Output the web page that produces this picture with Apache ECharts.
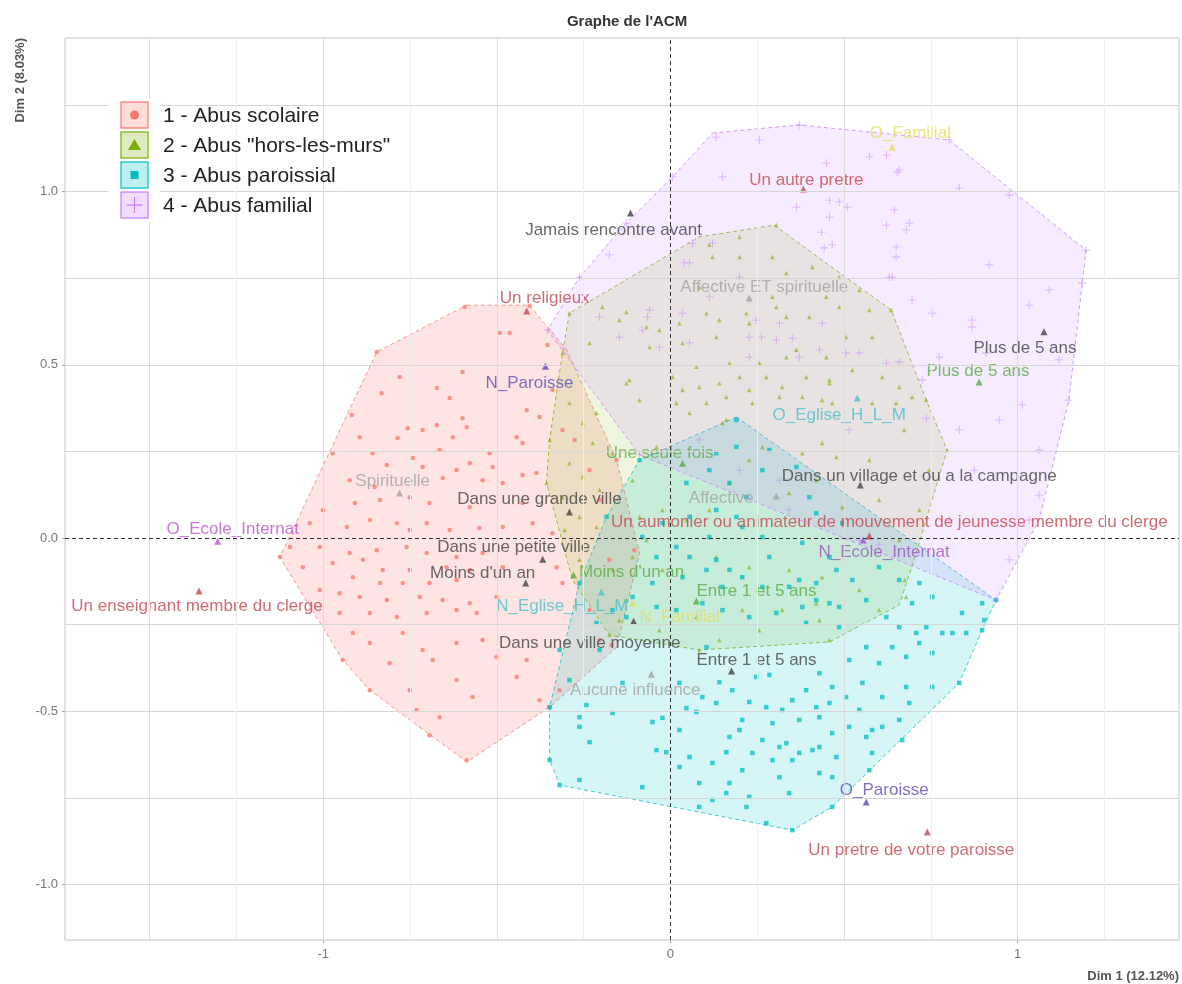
<!DOCTYPE html>
<html><head><meta charset="utf-8">
<script src="https://cdn.jsdelivr.net/npm/echarts@6/dist/echarts.min.js"></script>
<style>html,body{margin:0;padding:0;background:#fff}#c{width:1182px;height:984px}</style>
</head><body><div id="c"></div>
<script>
// ---------------- DATA ----------------
const groupNames = ['1 - Abus scolaire', '2 - Abus "hors-les-murs"', '3 - Abus paroissial', '4 - Abus familial'];
const xTickValues = [-1, 0, 1];
const yTickValues = [-1, -0.5, 0, 0.5, 1];
const gridXValues = [-1.5, -1.25, -1, -0.75, -0.5, -0.25, 0.25, 0.5, 0.75, 1, 1.25];
const gridYValues = [-1, -0.75, -0.5, -0.25, 0.25, 0.5, 0.75, 1, 1.25];

const pts1 = [[-0.463,0.592],[-0.492,0.592],[-0.354,0.557],[-0.599,0.479],[-0.780,0.465],[-0.673,0.433],[-0.832,0.418],[-0.636,0.404],[-0.414,0.369],[-0.377,0.349],[-0.918,0.355],[-0.599,0.346],[-0.757,0.317],[-0.714,0.312],[-0.673,0.326],[-0.587,0.320],[-0.627,0.291],[-0.443,0.291],[-0.426,0.274],[-0.895,0.291],[-0.786,0.289],[-0.858,0.245],[-0.973,0.245],[-0.665,0.254],[-0.521,0.245],[-0.578,0.216],[-0.742,0.231],[-0.817,0.211],[-0.714,0.205],[-0.616,0.196],[-0.512,0.205],[-0.426,0.182],[-0.386,0.188],[-0.656,0.173],[-0.541,0.167],[-0.483,0.159],[-0.924,0.167],[-0.852,0.147],[-0.909,0.101],[-0.837,0.110],[-0.751,0.118],[-0.694,0.101],[-0.578,0.089],[-0.426,0.101],[-1.001,0.081],[-1.039,0.043],[-0.932,0.032],[-0.866,0.052],[-0.788,0.043],[-0.751,0.023],[-0.702,0.043],[-0.636,0.023],[-0.550,0.029],[-0.483,0.032],[-0.397,0.043],[-0.340,0.014],[-1.096,-0.026],[-1.010,-0.026],[-0.924,-0.043],[-0.846,-0.035],[-0.760,-0.026],[-0.702,-0.043],[-0.616,-0.055],[-0.541,-0.043],[-1.059,-0.084],[-0.973,-0.072],[-0.886,-0.063],[-0.829,-0.092],[-0.751,-0.092],[-0.645,-0.084],[-0.578,-0.092],[-0.483,-0.084],[-0.328,-0.084],[-0.915,-0.113],[-0.837,-0.130],[-0.771,-0.130],[-0.694,-0.130],[-0.616,-0.121],[-1.010,-0.150],[-0.953,-0.159],[-0.895,-0.170],[-0.817,-0.179],[-0.722,-0.170],[-0.656,-0.179],[-0.578,-0.188],[-0.501,-0.170],[-0.311,-0.130],[-0.866,-0.216],[-0.788,-0.228],[-0.702,-0.216],[-0.616,-0.208],[-0.558,-0.216],[-0.953,-0.216],[-0.915,-0.274],[-0.771,-0.274],[-0.866,-0.303],[-0.714,-0.323],[-0.616,-0.303],[-0.541,-0.294],[-0.685,-0.352],[-0.414,-0.352],[-0.501,-0.343],[-0.809,-0.361],[-0.616,-0.410],[-0.443,-0.401],[-0.751,-0.439],[-0.570,-0.459],[-0.866,-0.439],[-0.731,-0.496],[-0.665,-0.517],[-0.694,-0.569],[-0.587,-0.641],[-0.593,0.667],[-0.406,0.670],[-0.846,0.537],[-0.340,0.427],[-0.311,0.312],[-0.276,0.283],[-0.233,0.196],[-0.204,0.110],[-0.176,-0.063],[-0.233,-0.208],[-0.204,-0.294],[-0.319,-0.439],[-0.377,-0.468],[-1.125,-0.055],[-0.944,-0.352],[-0.155,0.225],[-0.104,-0.035],[-0.170,-0.309],[-0.348,-0.488]];

const pts2 = [[0.305,0.903],[0.199,0.869],[0.112,0.846],[0.121,0.811],[0.199,0.811],[0.294,0.811],[0.334,0.765],[0.409,0.782],[0.486,0.753],[0.544,0.716],[0.449,0.696],[0.294,0.696],[0.305,0.667],[0.219,0.649],[0.141,0.629],[0.104,0.649],[0.026,0.620],[-0.032,0.600],[-0.060,0.551],[0.035,0.563],[0.132,0.580],[0.227,0.620],[0.334,0.638],[0.400,0.638],[0.486,0.667],[0.573,0.658],[0.581,0.580],[0.506,0.580],[0.449,0.522],[0.363,0.543],[0.334,0.522],[0.256,0.505],[0.170,0.505],[0.075,0.494],[0.006,0.465],[0.083,0.436],[0.141,0.447],[0.199,0.465],[0.276,0.465],[0.322,0.436],[0.391,0.465],[0.458,0.447],[0.524,0.485],[0.610,0.465],[0.659,0.436],[0.696,0.407],[0.017,0.390],[0.104,0.390],[0.161,0.407],[0.236,0.390],[0.314,0.407],[0.380,0.407],[0.466,0.390],[0.581,0.390],[0.650,0.390],[0.083,0.724],[-0.196,0.667],[-0.127,0.652],[-0.147,0.629],[-0.069,0.609],[-0.233,0.563],[-0.127,0.447],[-0.089,0.398],[0.035,0.427],[0.227,0.427],[0.437,0.398],[0.458,0.456],[0.055,0.361],[0.161,0.341],[-0.291,0.390],[-0.213,0.361],[-0.253,0.332],[-0.224,0.274],[-0.291,0.216],[-0.253,0.176],[-0.204,0.139],[-0.311,0.118],[-0.262,0.061],[-0.213,0.032],[-0.305,0.023],[-0.262,-0.063],[-0.167,0.245],[-0.109,0.167],[-0.118,0.456],[-0.040,0.263],[0.150,0.332],[0.227,0.225],[0.265,0.263],[0.380,0.245],[0.437,0.274],[0.478,0.234],[0.342,0.130],[0.420,0.167],[0.495,0.089],[0.170,0.159],[0.112,0.081],[0.046,0.052],[-0.023,0.081],[-0.089,0.061],[-0.069,-0.006],[-0.109,-0.055],[-0.167,-0.092],[-0.127,-0.179],[-0.023,-0.092],[0.132,-0.055],[0.227,-0.084],[0.342,-0.092],[0.437,-0.113],[0.207,-0.208],[0.322,-0.208],[0.420,-0.188],[0.075,-0.228],[0.673,0.312],[0.745,0.196],[0.717,0.081],[0.659,-0.006],[0.601,0.110],[0.573,0.225],[0.675,-0.121],[0.544,-0.150],[0.429,-0.237],[0.256,-0.266],[0.141,-0.294],[-0.032,-0.266],[-0.147,-0.237],[0.601,-0.208],[0.797,0.254],[0.679,-0.170],[0.083,-0.323],[-0.357,0.159],[-0.291,0.649],[0.636,0.658],[0.737,0.398],[0.458,-0.294],[-0.176,-0.280],[-0.348,0.283],[-0.311,0.534]];

const pts3 = [[-0.348,-0.488],[-0.348,-0.641],[-0.319,-0.713],[-0.262,-0.517],[-0.262,-0.545],[-0.233,-0.589],[-0.242,-0.482],[-0.167,-0.505],[-0.138,-0.418],[-0.052,-0.531],[-0.023,-0.519],[0.026,-0.554],[-0.012,-0.618],[0.026,-0.418],[0.046,-0.491],[0.075,-0.502],[0.092,-0.459],[0.104,-0.315],[0.141,-0.416],[0.132,-0.476],[0.178,-0.439],[0.207,-0.525],[0.170,-0.574],[0.161,-0.618],[0.199,-0.554],[0.247,-0.401],[0.285,-0.395],[0.227,-0.473],[0.276,-0.488],[0.322,-0.496],[0.294,-0.534],[0.265,-0.583],[0.314,-0.603],[0.334,-0.592],[0.371,-0.525],[0.351,-0.468],[0.391,-0.439],[0.429,-0.390],[0.466,-0.430],[0.420,-0.488],[0.458,-0.476],[0.506,-0.459],[0.553,-0.418],[0.515,-0.352],[0.564,-0.315],[0.601,-0.361],[0.639,-0.315],[0.679,-0.343],[0.717,-0.303],[0.754,-0.332],[0.708,-0.274],[0.783,-0.274],[0.852,-0.274],[0.832,-0.418],[0.679,-0.430],[0.610,-0.459],[0.688,-0.476],[0.754,-0.430],[0.544,-0.496],[0.581,-0.554],[0.610,-0.545],[0.515,-0.545],[0.466,-0.563],[0.429,-0.517],[0.409,-0.612],[0.371,-0.620],[0.478,-0.632],[0.429,-0.603],[0.351,-0.641],[0.294,-0.641],[0.236,-0.620],[0.207,-0.670],[0.121,-0.649],[0.083,-0.707],[0.055,-0.632],[0.170,-0.707],[0.227,-0.747],[0.161,-0.736],[0.314,-0.690],[0.342,-0.736],[0.429,-0.678],[0.466,-0.690],[0.564,-0.574],[0.581,-0.620],[0.668,-0.583],[0.573,-0.670],[0.659,-0.525],[0.276,-0.823],[0.219,-0.776],[0.121,-0.756],[0.351,-0.843],[-0.040,-0.612],[0.026,-0.661],[-0.081,-0.719],[-0.262,-0.698],[0.083,-0.776],[0.112,0.003],[0.207,0.032],[0.265,0.003],[0.380,-0.014],[0.458,-0.055],[0.285,-0.055],[0.132,-0.063],[0.170,-0.092],[0.017,-0.026],[0.055,-0.055],[-0.040,-0.055],[-0.052,-0.130],[0.035,-0.113],[0.104,-0.092],[0.150,-0.141],[0.207,-0.113],[0.265,-0.141],[0.342,-0.141],[0.420,-0.130],[0.478,-0.092],[0.458,-0.188],[0.380,-0.199],[0.305,-0.216],[0.227,-0.228],[0.150,-0.208],[0.092,-0.188],[0.017,-0.208],[-0.040,-0.199],[-0.109,-0.170],[-0.167,-0.208],[-0.213,-0.245],[-0.127,-0.228],[0.132,0.081],[0.190,0.061],[0.055,0.061],[-0.023,0.043],[-0.081,0.003],[0.170,0.159],[0.219,0.118],[0.265,0.196],[0.112,0.196],[0.046,0.159],[0.190,0.263],[0.132,0.245],[0.285,0.254],[0.363,0.205],[0.400,0.118],[0.420,0.072],[0.495,0.043],[0.190,0.341],[0.601,-0.084],[0.659,-0.121],[0.717,-0.130],[0.754,-0.170],[0.696,-0.188],[0.840,-0.216],[0.898,-0.188],[0.904,-0.237],[0.812,-0.274],[0.622,-0.228],[0.564,-0.179],[0.524,-0.121],[0.486,-0.199],[0.420,-0.179],[0.371,-0.121],[0.391,-0.245],[0.486,-0.257],[0.659,-0.257],[0.737,-0.257],[0.938,-0.179],[0.898,-0.266],[0.466,-0.776],[-0.184,0.061],[-0.089,0.225],[-0.262,-0.130],[-0.204,-0.323],[-0.291,-0.410],[-0.319,-0.323]];

const pts4 = [[0.132,1.157],[0.371,1.192],[0.150,1.042],[0.449,1.082],[0.573,1.100],[0.622,1.105],[0.653,1.056],[0.832,1.010],[0.976,0.990],[0.363,0.955],[0.458,0.975],[0.486,0.970],[0.509,0.955],[0.458,0.926],[0.622,0.903],[0.645,0.947],[0.688,0.909],[0.679,0.889],[0.435,0.883],[0.650,0.840],[0.650,0.811],[0.466,0.846],[0.443,0.837],[0.639,0.753],[0.696,0.687],[0.754,0.649],[0.869,0.629],[0.869,0.609],[1.033,0.672],[1.197,0.831],[1.186,0.736],[0.774,0.522],[0.909,0.534],[0.725,0.456],[1.013,0.384],[0.737,0.346],[0.055,0.794],[0.199,0.753],[-0.060,0.658],[-0.081,0.600],[0.035,0.649],[0.247,0.629],[0.314,0.620],[0.227,0.580],[0.262,0.580],[0.305,0.571],[0.351,0.577],[0.371,0.522],[0.227,0.522],[0.437,0.620],[0.506,0.534],[0.544,0.534],[0.622,0.505],[0.659,0.508],[0.112,0.696],[-0.032,0.551],[0.055,0.563],[0.429,0.543],[-0.176,0.817],[0.063,0.851],[0.121,0.851],[0.040,0.794],[-0.066,0.638],[-0.204,0.638],[-0.147,0.580],[0.659,1.062],[0.630,0.753],[0.947,0.341],[1.062,0.254],[1.033,0.052],[0.875,0.196],[0.803,0.052],[0.976,-0.063],[0.601,-0.020],[0.342,0.081],[0.544,-0.006],[0.314,0.167],[0.199,0.196],[0.083,0.283],[0.515,0.312],[0.803,1.149],[1.148,0.398],[1.062,0.124],[0.938,-0.179],[-0.089,0.240],[-0.354,0.600],[-0.262,0.753],[-0.127,0.909],[0.006,1.042],[0.256,1.149],[0.918,0.788],[1.091,0.716],[1.119,0.514],[0.832,0.312]];

const hull1 = [[-0.587,0.672],[-0.406,0.672],[-0.299,0.543],[-0.155,0.225],[-0.089,-0.043],[-0.155,-0.315],[-0.348,-0.488],[-0.587,-0.646],[-0.866,-0.439],[-0.944,-0.352],[-1.125,-0.055],[-0.846,0.537]];
const hull2 = [[0.299,0.903],[0.515,0.745],[0.636,0.658],[0.737,0.398],[0.797,0.254],[0.702,-0.063],[0.659,-0.193],[0.458,-0.300],[0.083,-0.323],[-0.176,-0.280],[-0.282,-0.121],[-0.357,0.159],[-0.348,0.283],[-0.311,0.534],[-0.291,0.649],[0.083,0.869]];
const hull3 = [[0.190,0.349],[0.938,-0.179],[0.898,-0.266],[0.832,-0.418],[0.466,-0.776],[0.351,-0.843],[-0.319,-0.713],[-0.348,-0.641],[-0.348,-0.488],[-0.262,-0.130],[-0.184,0.061],[-0.089,0.225]];
const hull4 = [[0.121,1.169],[0.371,1.192],[0.803,1.149],[1.197,0.831],[1.148,0.398],[1.062,0.052],[0.938,-0.179],[-0.089,0.240],[-0.354,0.600],[-0.262,0.753],[-0.127,0.909],[0.006,1.042]];

const supNames = ['Jamais rencontre avant','Un autre pretre','O_Familial','Affective ET spirituelle','Un religieux','Plus de 5 ans','Plus de 5 ans','N_Paroisse','O_Eglise_H_L_M','Une seule fois','Spirituelle','Dans une grande ville','Dans un village et ou a la campagne','Affective','Un aumonier ou animateur de mouvement de jeunesse membre du clerge','N_Ecole_Internat','O_Ecole_Internat','Un enseignant membre du clerge','Dans une petite ville',"Moins d'un an","Moins d'un an",'Entre 1 et 5 ans','N_Eglise_H_L_M','N_Familial','Dans une ville moyenne','Entre 1 et 5 ans','Aucune influence','O_Paroisse','Un pretre de votre paroisse'];
const supX = [-0.115,0.383,0.639,0.227,-0.414,1.076,0.889,-0.360,0.538,0.035,-0.780,-0.291,0.547,0.305,0.573,0.555,-1.304,-1.358,-0.368,-0.417,-0.279,0.075,-0.199,-0.109,-0.106,0.176,-0.055,0.564,0.740];
const supY = [0.938,1.007,1.128,0.693,0.655,0.595,0.450,0.496,0.404,0.216,0.130,0.075,0.153,0.121,0.006,-0.006,-0.009,-0.153,-0.061,-0.130,-0.107,-0.182,-0.156,-0.188,-0.240,-0.384,-0.393,-0.762,-0.848];

// ---------------- STYLE ----------------
const FONT = '"Liberation Sans", Arial, sans-serif';
const groupColors = ['#F8766D', '#7CAE00', '#00BFC4', '#C77CFF'];
const C = {dark:'#444444', red:'#c4474d', gray:'#a2a2a2', green:'#58ac44', blue:'#5a4fb8', cyan:'#47c1cc', mag:'#bb55c8', purp:'#9b55c0', yel:'#e3dd5c'};
const supColors = [C.dark,C.red,C.yel,C.gray,C.red,C.dark,C.green,C.blue,C.cyan,C.green,C.gray,C.dark,C.dark,C.gray,C.red,C.purp,C.mag,C.red,C.dark,C.dark,C.green,C.green,C.cyan,C.yel,C.dark,C.dark,C.gray,C.blue,C.red];
const supOffsets = [[-17,17],[3,-9],[18,-14],[15,-11],[18,-13],[-19,16],[-1,-11],[-16,17],[-18,17],[-23,-10],[-7,-12],[-30,-13],[59,-9],[-55,2],[20,-14],[21,12],[15,-12],[-2,15],[-29,-12],[-43,-10],[58,-3],[60,-10],[-39,14],[47,14],[-44,22],[25,-11],[-16,16],[18,-12],[-16,18]];
const hullAlpha = [0.2, 0.13, 0.16, 0.15];
const plusPath = 'path://M0,4.5L10,4.5L10,5.5L0,5.5Z M4.5,0L5.5,0L5.5,10L4.5,10Z';
const symbols = ['circle', 'triangle', 'rect', plusPath];
const symSizes = [4.5, 4.5, 4.5, 8];
const symOpacity = [0.75, 0.6, 0.75, 0.6];

function rgba(hex, a) {
  const n = parseInt(hex.slice(1), 16);
  return 'rgba(' + ((n >> 16) & 255) + ',' + ((n >> 8) & 255) + ',' + (n & 255) + ',' + a + ')';
}

const hulls = [hull1, hull2, hull3, hull4];
const pts = [pts1, pts2, pts3, pts4];

const series = [];
series.push({
  type: 'scatter', data: [], silent: true, z: 0,
  markLine: {
    silent: true, symbol: 'none', animation: false, label: {show: false},
    data: gridYValues.map(v => ({yAxis: v, lineStyle: {color: '#d6d6d6', width: 1, type: 'solid'}}))
      .concat(gridXValues.map(v => ({xAxis: v, lineStyle: {color: (Math.abs(v * 2 - Math.round(v * 2)) < 1e-9) ? '#dcdcdc' : '#eeeeee', width: 1, type: 'solid'}})))
  }
});
hulls.forEach((h, i) => {
  series.push({
    type: 'custom', silent: true, z: 1, data: [h[0]],
    renderItem: function (params, api) {
      return {
        type: 'polygon',
        shape: {points: h.map(p => api.coord(p))},
        style: {fill: rgba(groupColors[i], hullAlpha[i]), stroke: rgba(groupColors[i], 0.75), lineWidth: 1, lineDash: [4, 3]}
      };
    }
  });
});
pts.forEach((p, i) => {
  series.push({
    name: groupNames[i], type: 'scatter', z: 2, silent: true,
    symbol: symbols[i], symbolSize: symSizes[i], data: p,
    itemStyle: {color: groupColors[i], opacity: symOpacity[i]}
  });
});
series.push({
  type: 'scatter', data: [], silent: true, z: 3,
  markLine: {
    silent: true, symbol: 'none', animation: false, label: {show: false},
    lineStyle: {color: '#333', width: 1, type: [4, 3]},
    data: [{xAxis: 0}, {yAxis: 0}]
  }
});
series.push({
  type: 'scatter', z: 4, silent: true, symbol: 'triangle', symbolSize: 7,
  data: supNames.map((n, i) => ({
    name: n, value: [supX[i], supY[i]],
    itemStyle: {color: supColors[i]},
    label: {show: true, position: 'inside', formatter: n, offset: supOffsets[i], color: supColors[i], fontSize: 17, fontFamily: FONT}
  }))
});

const legendG = [{type: 'rect', z: 100, shape: {x: 108, y: 100, width: 52, height: 122}, style: {fill: '#fff'}}];
groupNames.forEach((n, i) => {
  const cy = 115 + i * 30, cx = 134.5, c = groupColors[i];
  legendG.push({type: 'rect', z: 101, shape: {x: 121, y: cy - 13, width: 27, height: 26}, style: {fill: rgba(c, 0.25), stroke: rgba(c, 0.8), lineWidth: 1.5}});
  if (i === 0) legendG.push({type: 'circle', z: 102, shape: {cx: cx, cy: cy, r: 4.5}, style: {fill: c}});
  if (i === 1) legendG.push({type: 'polygon', z: 102, shape: {points: [[cx, cy - 6], [cx - 6.5, cy + 5], [cx + 6.5, cy + 5]]}, style: {fill: c}});
  if (i === 2) legendG.push({type: 'rect', z: 102, shape: {x: cx - 4, y: cy - 4, width: 8, height: 8}, style: {fill: c}});
  if (i === 3) {
    legendG.push({type: 'line', z: 102, shape: {x1: cx - 8, y1: cy, x2: cx + 8, y2: cy}, style: {stroke: c, lineWidth: 1.2}});
    legendG.push({type: 'line', z: 102, shape: {x1: cx, y1: cy - 8, x2: cx, y2: cy + 8}, style: {stroke: c, lineWidth: 1.2}});
  }
  legendG.push({type: 'text', z: 102, x: 163, y: cy + 1, style: {text: n, fontSize: 21, fontFamily: FONT, fill: '#222', verticalAlign: 'middle', align: 'left'}});
});

const chart = echarts.init(document.getElementById('c'));
chart.setOption({
  animation: false,
  backgroundColor: '#fff',
  title: {text: "Graphe de l'ACM", left: 622, top: 9, textAlign: 'center', textStyle: {fontSize: 15, fontWeight: 'bold', color: '#333', fontFamily: FONT}},
  grid: {left: 65, right: 2, top: 38, bottom: 44, show: true, borderColor: '#c6c6c6', borderWidth: 1, backgroundColor: '#fff'},
  xAxis: {
    type: 'value', min: -1.744, max: 1.465,
    splitLine: {show: false}, axisLine: {show: false, onZero: false},
    axisTick: {show: true, customValues: xTickValues, length: 3, lineStyle: {color: '#aaa'}},
    axisLabel: {customValues: xTickValues, color: '#777', fontSize: 13, margin: 8, fontFamily: FONT, formatter: v => String(v)},
    name: 'Dim 1 (12.12%)', nameLocation: 'end', nameGap: 0, nameMoveOverlap: false,
    nameTextStyle: {align: 'right', verticalAlign: 'top', padding: [30, 0, 0, 0], fontWeight: 'bold', color: '#555', fontSize: 13, fontFamily: FONT}
  },
  yAxis: {
    type: 'value', min: -1.160, max: 1.443,
    splitLine: {show: false}, axisLine: {show: false, onZero: false},
    axisTick: {show: true, customValues: yTickValues, length: 3, lineStyle: {color: '#aaa'}},
    axisLabel: {customValues: yTickValues, color: '#777', fontSize: 13, margin: 7, fontFamily: FONT, formatter: v => v.toFixed(1)},
    name: 'Dim 2 (8.03%)', nameLocation: 'end', nameRotate: 90, nameGap: 0, nameMoveOverlap: false,
    nameTextStyle: {align: 'right', verticalAlign: 'bottom', padding: [0, 0, 38, 0], fontWeight: 'bold', color: '#555', fontSize: 13, fontFamily: FONT}
  },
  graphic: legendG,
  series: series
});
</script>
</body></html>
